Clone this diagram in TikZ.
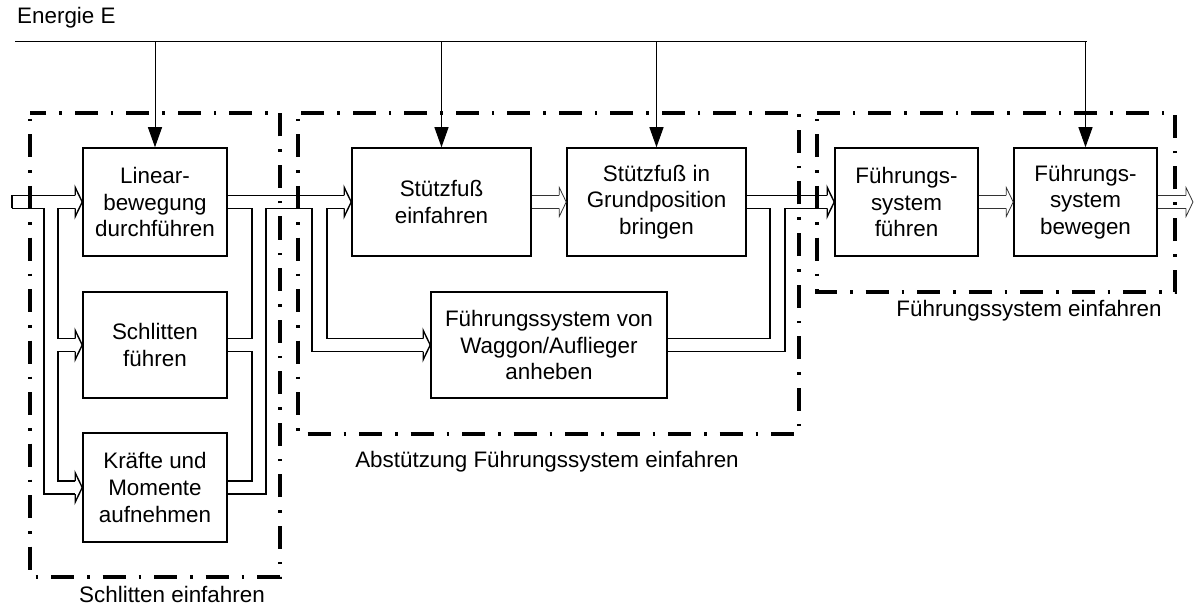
\documentclass[tikz,border=0pt]{standalone}
\usepackage{fontspec}
\setmainfont{Liberation Sans}
\usetikzlibrary{calc,arrows.meta}
\tikzset{
  box/.style={draw, line width=1.5pt, inner sep=0pt, align=center, font=\fontsize{22.4}{26.7}\selectfont},
  lbl/.style={inner sep=0pt, font=\fontsize{22.4}{26.7}\selectfont},
  chan/.style={line width=1.4pt, line join=miter},
  tchan/.style={line width=0.8pt, line join=miter, black!80},
  grp/.style={line width=3.2pt, dash pattern=on 23pt off 13pt on 2.5pt off 13pt, dash phase=30pt},
  eline/.style={line width=1pt},
  earrow/.style={line width=1pt, -{Triangle[width=14pt,length=20pt]}},
}
\newcommand\hhead[2][chan]{\draw[#1] ($(#2.west)+(-7,-6.5)$) -- ($(#2.west)+(-7,-14.5)$) -- (#2.west) -- ($(#2.west)+(-7,14.5)$) -- ($(#2.west)+(-7,6.5)$);}
\begin{document}
\begin{tikzpicture}[x=1pt,y=-1pt]
\useasboundingbox (0,0) rectangle (1195,607);

% boxes
\node[box, minimum width=144pt, minimum height=108pt] (lin) at (155,202) {Linear-\\bewegung\\durchführen};
\node[box, minimum width=144pt, minimum height=106pt] (sch) at (155,345) {Schlitten\\führen};
\node[box, minimum width=144pt, minimum height=109pt] (kra) at (155,487.5) {Kräfte und\\Momente\\aufnehmen};
\node[box, minimum width=179pt, minimum height=108pt] (stu1) at (441.5,202) {Stützfuß\\einfahren};
\node[box, minimum width=179pt, minimum height=108pt] (stu2) at (656.5,202) {Stützfuß in\\Grundposition\\bringen};
\node[box, minimum width=236pt, minimum height=106pt] (fuv) at (549,345) {Führungssystem von\\Waggon/Auflieger\\anheben};
\node[box, minimum width=143pt, minimum height=108pt] (ff) at (906.5,202) {Führungs-\\system\\führen};
\node[box, minimum width=143pt, minimum height=108pt] (fb) at (1085.5,202) {Führungs-\\system\\bewegen};

% groups
\draw[grp] (30,113) rectangle (280,577);
\draw[grp] (298,113) rectangle (799,434);
\draw[grp] (817,113) rectangle (1175,292);
\node[lbl] (g1) at (172,594) {Schlitten einfahren};
\node[lbl] (g2) at (547,462) {Abstützung Führungssystem einfahren};
\node[lbl] (g3) at (1029,311) {Führungssystem einfahren};

% energy
\node[lbl, anchor=west] (en) at (17,18) {Energie E};
\coordinate (e0) at (15,42);
\coordinate (e1) at (1087,42);
\draw[eline] (e0) -- (e1);
\draw[earrow] (lin.north |- e0) -- (lin.north);
\draw[earrow] (stu1.north |- e0) -- (stu1.north);
\draw[earrow] (stu2.north |- e0) -- (stu2.north);
\draw[earrow] (fb.north |- e0) -- (fb.north);

% input channel
\coordinate (in) at (12,202);
\draw[chan] ($(in)+(0,6.5)$) -- ($(in)+(0,-6.5)$) -- ($(lin.west)+(-7,-6.5)$);
\draw[chan] ($(in)+(0,6.5)$) -- (44,208.5) |- ($(kra.west)+(-7,6.5)$);
\draw[chan] ($(lin.west)+(-7,6.5)$) -- (58,208.5) |- ($(sch.west)+(-7,-6.5)$);
\draw[chan] ($(sch.west)+(-7,6.5)$) -- (58,351.5) |- ($(kra.west)+(-7,-6.5)$);
\hhead{lin}
\hhead{sch}
\hhead{kra}

% left group outputs
\draw[chan] ($(lin.east)+(0,-6.5)$) -- ($(stu1.west)+(-7,-6.5)$);
\draw[chan] ($(lin.east)+(0,6.5)$) -- (252,208.5) |- ($(sch.east)+(0,-6.5)$);
\draw[chan] ($(sch.east)+(0,6.5)$) -- (252,351.5) |- ($(kra.east)+(0,-6.5)$);
\draw[chan] ($(kra.east)+(0,6.5)$) -- (266,494) |- (312,208.5) |- ($(fuv.west)+(-7,6.5)$);
\draw[chan] ($(stu1.west)+(-7,6.5)$) -- (327,208.5) |- ($(fuv.west)+(-7,-6.5)$);
\hhead{stu1}
\hhead{fuv}

% stu1 -> stu2
\draw[tchan] ($(stu1.east)+(0,-6.5)$) -- ($(stu2.west)+(-7,-6.5)$);
\draw[tchan] ($(stu1.east)+(0,6.5)$) -- ($(stu2.west)+(-7,6.5)$);
\hhead[tchan]{stu2}

% middle outputs
\draw[chan] ($(stu2.east)+(0,-6.5)$) -- ($(ff.west)+(-7,-6.5)$);
\draw[chan] ($(stu2.east)+(0,6.5)$) -- (770,208.5) |- ($(fuv.east)+(0,-6.5)$);
\draw[chan] ($(fuv.east)+(0,6.5)$) -- (785,351.5) |- ($(ff.west)+(-7,6.5)$);
\hhead{ff}

% ff -> fb -> out
\draw[tchan] ($(ff.east)+(0,-6.5)$) -- ($(fb.west)+(-7,-6.5)$);
\draw[tchan] ($(ff.east)+(0,6.5)$) -- ($(fb.west)+(-7,6.5)$);
\hhead[tchan]{fb}
\coordinate (out) at (1193,202);
\draw[tchan] ($(fb.east)+(0,-6.5)$) -- ($(out)+(-7,-6.5)$);
\draw[tchan] ($(fb.east)+(0,6.5)$) -- ($(out)+(-7,6.5)$);
\draw[tchan] ($(out)+(-7,-6.5)$) -- ($(out)+(-7,-14.5)$) -- (out) -- ($(out)+(-7,14.5)$) -- ($(out)+(-7,6.5)$);
\end{tikzpicture}
\end{document}
